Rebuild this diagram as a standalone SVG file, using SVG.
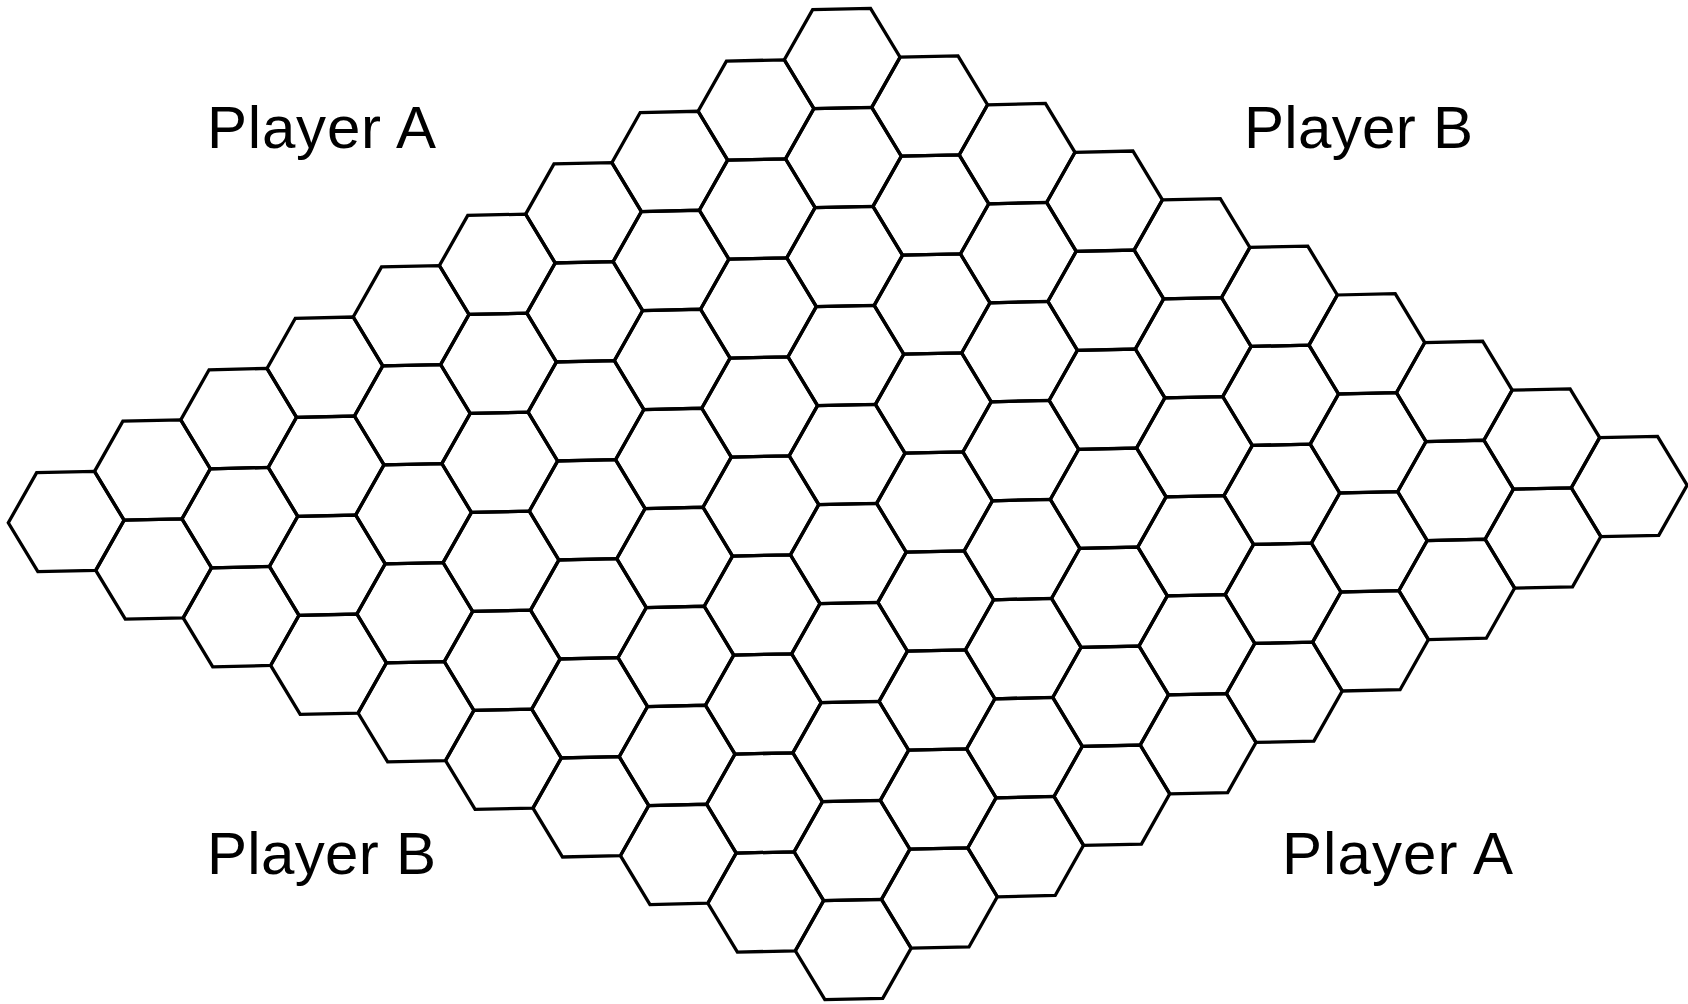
<svg xmlns="http://www.w3.org/2000/svg" xmlns:xlink="http://www.w3.org/1999/xlink" width="1688" height="1004" viewBox="0 0 1688 1004">
<style>
.cell{fill:none;stroke:#000;stroke-width:3.3;stroke-linejoin:miter}
.lbl{font-family:"Liberation Sans",Arial,sans-serif;font-size:60px;fill:#000}
</style>
<defs>
<polygon id="hex" points="-57.735,0 -28.868,-50 28.868,-50 57.735,0 28.868,50 -28.868,50"/>
</defs>
<rect width="1688" height="1004" fill="#fff"/>
<g id="board" transform="matrix(1.002664,-0.022447,0.01222,0.990,66.2,521.5)">
<g id="c0-0"><use href="#hex" class="cell" x="0" y="0"/></g>
<g id="c0-1"><use href="#hex" class="cell" x="86.603" y="50"/></g>
<g id="c0-2"><use href="#hex" class="cell" x="173.205" y="100"/></g>
<g id="c0-3"><use href="#hex" class="cell" x="259.808" y="150"/></g>
<g id="c0-4"><use href="#hex" class="cell" x="346.41" y="200"/></g>
<g id="c0-5"><use href="#hex" class="cell" x="433.013" y="250"/></g>
<g id="c0-6"><use href="#hex" class="cell" x="519.615" y="300"/></g>
<g id="c0-7"><use href="#hex" class="cell" x="606.218" y="350"/></g>
<g id="c0-8"><use href="#hex" class="cell" x="692.82" y="400"/></g>
<g id="c0-9"><use href="#hex" class="cell" x="779.423" y="450"/></g>
<g id="c1-0"><use href="#hex" class="cell" x="86.603" y="-50"/></g>
<g id="c1-1"><use href="#hex" class="cell" x="173.205" y="0"/></g>
<g id="c1-2"><use href="#hex" class="cell" x="259.808" y="50"/></g>
<g id="c1-3"><use href="#hex" class="cell" x="346.41" y="100"/></g>
<g id="c1-4"><use href="#hex" class="cell" x="433.013" y="150"/></g>
<g id="c1-5"><use href="#hex" class="cell" x="519.615" y="200"/></g>
<g id="c1-6"><use href="#hex" class="cell" x="606.218" y="250"/></g>
<g id="c1-7"><use href="#hex" class="cell" x="692.82" y="300"/></g>
<g id="c1-8"><use href="#hex" class="cell" x="779.423" y="350"/></g>
<g id="c1-9"><use href="#hex" class="cell" x="866.025" y="400"/></g>
<g id="c2-0"><use href="#hex" class="cell" x="173.205" y="-100"/></g>
<g id="c2-1"><use href="#hex" class="cell" x="259.808" y="-50"/></g>
<g id="c2-2"><use href="#hex" class="cell" x="346.41" y="0"/></g>
<g id="c2-3"><use href="#hex" class="cell" x="433.013" y="50"/></g>
<g id="c2-4"><use href="#hex" class="cell" x="519.615" y="100"/></g>
<g id="c2-5"><use href="#hex" class="cell" x="606.218" y="150"/></g>
<g id="c2-6"><use href="#hex" class="cell" x="692.82" y="200"/></g>
<g id="c2-7"><use href="#hex" class="cell" x="779.423" y="250"/></g>
<g id="c2-8"><use href="#hex" class="cell" x="866.025" y="300"/></g>
<g id="c2-9"><use href="#hex" class="cell" x="952.628" y="350"/></g>
<g id="c3-0"><use href="#hex" class="cell" x="259.808" y="-150"/></g>
<g id="c3-1"><use href="#hex" class="cell" x="346.41" y="-100"/></g>
<g id="c3-2"><use href="#hex" class="cell" x="433.013" y="-50"/></g>
<g id="c3-3"><use href="#hex" class="cell" x="519.615" y="0"/></g>
<g id="c3-4"><use href="#hex" class="cell" x="606.218" y="50"/></g>
<g id="c3-5"><use href="#hex" class="cell" x="692.82" y="100"/></g>
<g id="c3-6"><use href="#hex" class="cell" x="779.423" y="150"/></g>
<g id="c3-7"><use href="#hex" class="cell" x="866.025" y="200"/></g>
<g id="c3-8"><use href="#hex" class="cell" x="952.628" y="250"/></g>
<g id="c3-9"><use href="#hex" class="cell" x="1039.23" y="300"/></g>
<g id="c4-0"><use href="#hex" class="cell" x="346.41" y="-200"/></g>
<g id="c4-1"><use href="#hex" class="cell" x="433.013" y="-150"/></g>
<g id="c4-2"><use href="#hex" class="cell" x="519.615" y="-100"/></g>
<g id="c4-3"><use href="#hex" class="cell" x="606.218" y="-50"/></g>
<g id="c4-4"><use href="#hex" class="cell" x="692.82" y="0"/></g>
<g id="c4-5"><use href="#hex" class="cell" x="779.423" y="50"/></g>
<g id="c4-6"><use href="#hex" class="cell" x="866.025" y="100"/></g>
<g id="c4-7"><use href="#hex" class="cell" x="952.628" y="150"/></g>
<g id="c4-8"><use href="#hex" class="cell" x="1039.23" y="200"/></g>
<g id="c4-9"><use href="#hex" class="cell" x="1125.833" y="250"/></g>
<g id="c5-0"><use href="#hex" class="cell" x="433.013" y="-250"/></g>
<g id="c5-1"><use href="#hex" class="cell" x="519.615" y="-200"/></g>
<g id="c5-2"><use href="#hex" class="cell" x="606.218" y="-150"/></g>
<g id="c5-3"><use href="#hex" class="cell" x="692.82" y="-100"/></g>
<g id="c5-4"><use href="#hex" class="cell" x="779.423" y="-50"/></g>
<g id="c5-5"><use href="#hex" class="cell" x="866.025" y="0"/></g>
<g id="c5-6"><use href="#hex" class="cell" x="952.628" y="50"/></g>
<g id="c5-7"><use href="#hex" class="cell" x="1039.23" y="100"/></g>
<g id="c5-8"><use href="#hex" class="cell" x="1125.833" y="150"/></g>
<g id="c5-9"><use href="#hex" class="cell" x="1212.435" y="200"/></g>
<g id="c6-0"><use href="#hex" class="cell" x="519.615" y="-300"/></g>
<g id="c6-1"><use href="#hex" class="cell" x="606.218" y="-250"/></g>
<g id="c6-2"><use href="#hex" class="cell" x="692.82" y="-200"/></g>
<g id="c6-3"><use href="#hex" class="cell" x="779.423" y="-150"/></g>
<g id="c6-4"><use href="#hex" class="cell" x="866.025" y="-100"/></g>
<g id="c6-5"><use href="#hex" class="cell" x="952.628" y="-50"/></g>
<g id="c6-6"><use href="#hex" class="cell" x="1039.23" y="0"/></g>
<g id="c6-7"><use href="#hex" class="cell" x="1125.833" y="50"/></g>
<g id="c6-8"><use href="#hex" class="cell" x="1212.435" y="100"/></g>
<g id="c6-9"><use href="#hex" class="cell" x="1299.038" y="150"/></g>
<g id="c7-0"><use href="#hex" class="cell" x="606.218" y="-350"/></g>
<g id="c7-1"><use href="#hex" class="cell" x="692.82" y="-300"/></g>
<g id="c7-2"><use href="#hex" class="cell" x="779.423" y="-250"/></g>
<g id="c7-3"><use href="#hex" class="cell" x="866.025" y="-200"/></g>
<g id="c7-4"><use href="#hex" class="cell" x="952.628" y="-150"/></g>
<g id="c7-5"><use href="#hex" class="cell" x="1039.23" y="-100"/></g>
<g id="c7-6"><use href="#hex" class="cell" x="1125.833" y="-50"/></g>
<g id="c7-7"><use href="#hex" class="cell" x="1212.435" y="0"/></g>
<g id="c7-8"><use href="#hex" class="cell" x="1299.038" y="50"/></g>
<g id="c7-9"><use href="#hex" class="cell" x="1385.64" y="100"/></g>
<g id="c8-0"><use href="#hex" class="cell" x="692.82" y="-400"/></g>
<g id="c8-1"><use href="#hex" class="cell" x="779.423" y="-350"/></g>
<g id="c8-2"><use href="#hex" class="cell" x="866.025" y="-300"/></g>
<g id="c8-3"><use href="#hex" class="cell" x="952.628" y="-250"/></g>
<g id="c8-4"><use href="#hex" class="cell" x="1039.23" y="-200"/></g>
<g id="c8-5"><use href="#hex" class="cell" x="1125.833" y="-150"/></g>
<g id="c8-6"><use href="#hex" class="cell" x="1212.435" y="-100"/></g>
<g id="c8-7"><use href="#hex" class="cell" x="1299.038" y="-50"/></g>
<g id="c8-8"><use href="#hex" class="cell" x="1385.64" y="0"/></g>
<g id="c8-9"><use href="#hex" class="cell" x="1472.243" y="50"/></g>
<g id="c9-0"><use href="#hex" class="cell" x="779.423" y="-450"/></g>
<g id="c9-1"><use href="#hex" class="cell" x="866.025" y="-400"/></g>
<g id="c9-2"><use href="#hex" class="cell" x="952.628" y="-350"/></g>
<g id="c9-3"><use href="#hex" class="cell" x="1039.23" y="-300"/></g>
<g id="c9-4"><use href="#hex" class="cell" x="1125.833" y="-250"/></g>
<g id="c9-5"><use href="#hex" class="cell" x="1212.435" y="-200"/></g>
<g id="c9-6"><use href="#hex" class="cell" x="1299.038" y="-150"/></g>
<g id="c9-7"><use href="#hex" class="cell" x="1385.64" y="-100"/></g>
<g id="c9-8"><use href="#hex" class="cell" x="1472.243" y="-50"/></g>
<g id="c9-9"><use href="#hex" class="cell" x="1558.845" y="0"/></g>
</g>
<g id="connectors"/>
<g id="labels">
<text class="lbl" x="207" y="148" textLength="229">Player A</text>
<text class="lbl" x="1244" y="148" textLength="229">Player B</text>
<text class="lbl" x="207" y="874" textLength="229">Player B</text>
<text class="lbl" x="1282" y="874" textLength="231">Player A</text>
</g>
</svg>
